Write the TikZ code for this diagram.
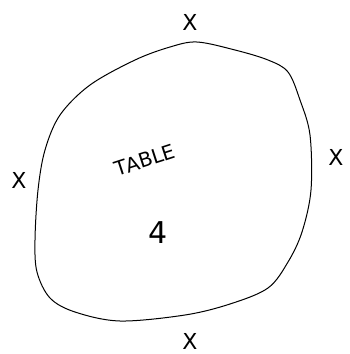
\documentclass[tikz,border=0pt]{standalone}
\usepackage{fontspec}
\setmainfont{DejaVu Sans}
\begin{document}
\begin{tikzpicture}[x=1pt,y=-1pt,
  xmark/.style={font=\fontsize{22}{22}\selectfont, inner sep=0pt},
  outline/.style={draw=black, line width=1pt, line join=round}]
\useasboundingbox (0,0) rectangle (350,354);
\fill[white] (0,0) rectangle (350,354);
\draw[outline] plot[smooth cycle, tension=0.55] coordinates {
 (197,42) (235,50) (268,60) (288,72) (300,100) (310,135) (311,190)
 (302,232) (288,262) (268,288) (230,304) (185,315) (120,321)
 (75,312) (50,298) (37,272) (35,240) (38,190) (45,150) (60,115)
 (90,85) (135,60) (170,47)};
\node[xmark] (xt) at (190,22) {X};
\node[xmark] (xl) at (19,180) {X};
\node[xmark] (xr) at (336,157) {X};
\node[xmark] (xb) at (190,341) {X};
\node[font=\fontsize{20}{20}\selectfont, rotate=18, inner sep=1pt] (lbl) at (145,160) {TABLE};
\node[font=\fontsize{30}{30}\selectfont, inner sep=0pt] (num) at (158,233) {4};
\end{tikzpicture}
\end{document}
